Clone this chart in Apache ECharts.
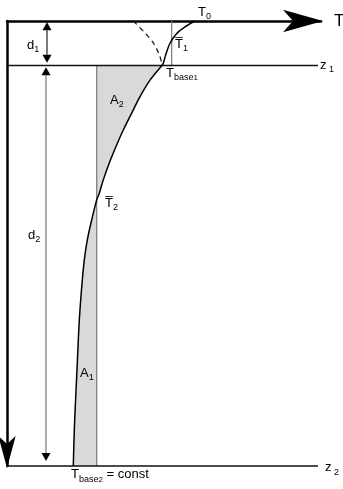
<!DOCTYPE html>
<html lang="en">
<head>
    <meta charset="UTF-8">
    <title>Temperature profile</title>
    <script src="https://cdn.jsdelivr.net/npm/echarts@6/dist/echarts.min.js"></script>
    <style>
        html,body{margin:0;padding:0;background:#fff}
        #chart{width:343px;height:489px}
    </style>
</head>
<body>
<div id="chart"></div>
<script>
// layer boundaries (depth grows downward): surface, z1, z2
var layerDepths = [0, 1, 10];
var layerEndT = 31.1;

// mean temperatures of both layers
var tMean1 = 16.47;
var tMean2 = 8.97;
var tMean2Depth = 4.02;

// temperature profile, upper layer (T0 down to Tbase1)
var prof1T = [18.8, 17.8, 16.97, 16.3, 15.87, 15.63, 15.5];
var prof1Z = [0, 0.13, 0.28, 0.5, 0.76, 0.95, 1.0];

// temperature profile, lower layer (Tbase1 down to Tbase2)
var prof2T = [15.5, 14.3, 13.3, 12.47, 11.63, 10.9, 10.23, 9.63, 9.23, 8.97,
              8.47, 8.03, 7.73, 7.53, 7.37, 7.23, 7.13, 7.03, 6.87, 6.73, 6.63];
var prof2Z = [1.0, 1.33, 1.7, 2.07, 2.45, 2.82, 3.19, 3.57, 3.87, 4.02,
              4.47, 4.92, 5.37, 5.82, 6.27, 6.72, 7.17, 7.69, 8.45, 9.19, 10.0];

// dashed alternative profile in the upper layer
var dashT = [12.63, 13.8, 14.63, 15.23, 15.47];
var dashZ = [0, 0.27, 0.49, 0.76, 0.94];

// thickness markers d1, d2: position, top tip, bottom tip
var dimT = [4.0, 3.9];
var dimTop = [0.03, 1.04];
var dimBottom = [0.94, 9.89];

// text labels
var labelText = [
    '{big|T}',
    '{m|T}{s|0}',
    '{m|T\u0305}{s|1}',
    '{m|T}{s|base}{ss|1}',
    '{m|z}{s| 1}',
    '{m|d}{s|1}',
    '{m|A}{s|2}',
    '{m|T\u0305}{s|2}',
    '{m|d}{s|2}',
    '{m|A}{s|1}',
    '{m|T}{s|base}{ss|2}{m| = const}',
    '{m|z}{s| 2}'
];
var labelT = [32.7, 19.1, 16.8, 15.9, 31.3, 2.0, 10.3, 9.8, 2.1, 7.3, 6.4, 31.8];
var labelZ = [0, -0.2, 0.52, 1.17, 0.99, 0.54, 1.78, 4.09, 4.81, 7.91, 10.2, 10.04];

function pairs(xs, ys) {
    var out = [];
    for (var i = 0; i < xs.length; i++) out.push([xs[i], ys[i]]);
    return out;
}

// shaded areas between profile and mean line
var shadeA2 = [], shadeA1 = [];
for (var i = 0; i < prof2Z.length; i++) {
    if (prof2Z[i] <= tMean2Depth) shadeA2.push([prof2T[i], prof2Z[i]]);
    if (prof2Z[i] >= tMean2Depth) shadeA1.push([prof2T[i], prof2Z[i]]);
}
shadeA2.push([tMean2, tMean2Depth], [tMean2, layerDepths[1]]);
shadeA1.push([tMean2, layerDepths[2]], [tMean2, tMean2Depth]);
var shades = [shadeA2, shadeA1];

var font = '"Liberation Sans", Arial, sans-serif';
var rich = {
    big: {fontSize: 17, lineHeight: 18, fontFamily: font, color: '#111', verticalAlign: 'middle'},
    m: {fontSize: 13, lineHeight: 18, fontFamily: font, color: '#222', verticalAlign: 'middle'},
    s: {fontSize: 9, lineHeight: 13, fontFamily: font, color: '#222', verticalAlign: 'bottom'},
    ss: {fontSize: 8, lineHeight: 11, fontFamily: font, color: '#222', verticalAlign: 'bottom'}
};

var mychart = echarts.init(document.getElementById('chart'));

function lineSeries(data, color, width, type, smooth) {
    return {
        type: 'line',
        data: data,
        showSymbol: false,
        symbol: 'none',
        smooth: smooth || false,
        clip: false,
        silent: true,
        animation: false,
        lineStyle: {color: color, width: width, type: type || 'solid'}
    };
}

var axisLineStyle = {color: '#000', width: 2.5};

var option = {
    animation: false,
    grid: {left: 7, top: 21, right: 22, bottom: 23},
    xAxis: {
        type: 'value', position: 'top', min: 0, max: 31.4,
        axisLine: {
            show: true, onZero: false,
            symbol: ['none', 'arrow'], symbolSize: [17, 40], symbolOffset: [0, 2],
            lineStyle: axisLineStyle
        },
        axisTick: {show: false}, axisLabel: {show: false}, splitLine: {show: false}
    },
    yAxis: {
        type: 'value', inverse: true, min: 0, max: 10,
        axisLine: {
            show: true, onZero: false,
            symbol: ['arrow', 'none'], symbolSize: [13, 32], symbolOffset: [-2, 0],
            lineStyle: axisLineStyle
        },
        axisTick: {show: false}, axisLabel: {show: false}, splitLine: {show: false}
    },
    series: [
        {
            type: 'custom',
            data: [0, 1],
            silent: true,
            renderItem: function (params, api) {
                var pts = shades[params.dataIndex].map(function (p) { return api.coord(p); });
                return {type: 'polygon', shape: {points: pts}, style: {fill: '#d9d9d9'}};
            }
        },
        lineSeries([[tMean1, layerDepths[0]], [tMean1, layerDepths[1]]], '#7a7a7a', 1.2),
        lineSeries([[tMean2, layerDepths[1]], [tMean2, layerDepths[2]]], '#7a7a7a', 1.2),
        lineSeries([[0, layerDepths[1]], [layerEndT, layerDepths[1]]], '#111', 1.5),
        lineSeries([[0, layerDepths[2]], [layerEndT, layerDepths[2]]], '#111', 1.5),
        lineSeries(pairs(dashT, dashZ), '#111', 1.2, [5, 4], 0.3),
        lineSeries(pairs(prof1T, prof1Z), '#000', 1.5, 'solid', 0.3),
        lineSeries(pairs(prof2T, prof2Z), '#000', 1.5, 'solid', 0.3),
        {
            type: 'custom',
            data: pairs(dimT, dimTop).map(function (p, k) { return [p[0], p[1], dimBottom[k]]; }),
            silent: true,
            renderItem: function (params, api) {
                var a = api.coord([api.value(0), api.value(1)]);
                var b = api.coord([api.value(0), api.value(2)]);
                var h = 8, w = 4.5;
                var stroke = params.dataIndex === 0 ? '#222' : '#777';
                return {type: 'group', children: [
                    {type: 'line', shape: {x1: a[0], y1: a[1] + h, x2: b[0], y2: b[1] - h},
                        style: {stroke: stroke, lineWidth: 1.2}},
                    {type: 'polygon', shape: {points: [[a[0], a[1]], [a[0] - w, a[1] + h], [a[0] + w, a[1] + h]]},
                        style: {fill: '#000'}},
                    {type: 'polygon', shape: {points: [[b[0], b[1]], [b[0] - w, b[1] - h], [b[0] + w, b[1] - h]]},
                        style: {fill: '#000'}}
                ]};
            }
        },
        {
            type: 'custom',
            data: pairs(labelT, labelZ),
            silent: true,
            clip: false,
            renderItem: function (params, api) {
                var p = api.coord([api.value(0), api.value(1)]);
                return {
                    type: 'text', x: p[0], y: p[1],
                    style: {text: labelText[params.dataIndex], rich: rich, align: 'left', verticalAlign: 'middle'}
                };
            }
        }
    ]
};
mychart.setOption(option);
</script>
</body>
</html>
